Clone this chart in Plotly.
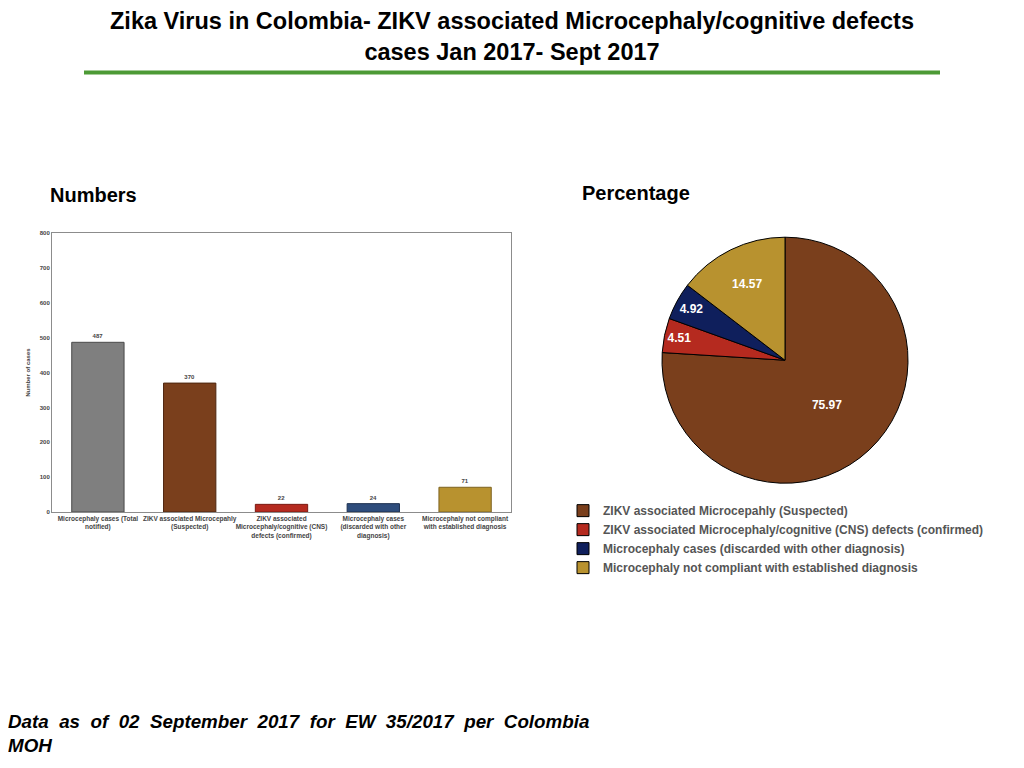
import plotly.graph_objects as go

bar_categories = ['Microcephaly cases (Total<br>notified)',
                  'ZIKV associated Microcepahly<br>(Suspected)',
                  'ZIKV associated<br>Microcephaly/cognitive (CNS)<br>defects (confirmed)',
                  'Microcephaly cases<br>(discarded with other<br>diagnosis)',
                  'Microcephaly not compliant<br>with established diagnosis']
bar_values = [487, 370, 22, 24, 71]
bar_colors = ['#7f7f7f', '#7a3f1c', '#b52a1f', '#2e4d7c', '#b8922f']
bar_edges = ['#4a4a4a', '#4e2610', '#7a1a12', '#1d3050', '#7d6320']

pie_labels = ['ZIKV associated Microcepahly (Suspected)',
              'ZIKV associated Microcephaly/cognitive (CNS) defects (confirmed)',
              'Microcephaly cases (discarded with other diagnosis)',
              'Microcephaly not compliant with established diagnosis']
pie_values = [75.97, 4.51, 4.92, 14.57]
pie_colors = ['#7a3f1c', '#b52a1f', '#0f1f5c', '#b8922f']

title_lines = ['Zika Virus in Colombia- ZIKV associated Microcephaly/cognitive defects',
               'cases Jan 2017- Sept 2017']
footnote = 'Data as of 02 September 2017 for EW 35/2017 per Colombia<br>MOH'

# page body has an 8px margin, so the figure is drawn 8px in from the window corner
OFF = 8
W, H = 1024 - OFF, 768 - OFF

def px_x(x):
    return (x - OFF) / W

def px_y(y):
    return 1 - (y - OFF) / H

fig = go.Figure()

fig.add_trace(go.Bar(x=bar_categories,
                     y=bar_values,
                     marker=dict(color=bar_colors,
                                 line=dict(color=bar_edges, width=1)),
                     width=0.57,
                     text=bar_values,
                     textposition='outside',
                     textfont=dict(size=6, color='#444444', family='Liberation Sans', weight='bold'),
                     cliponaxis=False,
                     showlegend=False))

fig.add_trace(go.Pie(labels=pie_labels,
                     values=pie_values,
                     sort=False,
                     direction='clockwise',
                     rotation=0,
                     marker=dict(colors=pie_colors, line=dict(color='#000000', width=1)),
                     texttemplate='%{value}',
                     textposition='inside',
                     insidetextorientation='horizontal',
                     textfont=dict(size=12, color='white', family='Liberation Sans', weight='bold'),
                     domain=dict(x=[px_x(661), px_x(909)], y=[px_y(484), px_y(236)]),
                     showlegend=True))

fig.update_layout(
    width=W, height=H,
    margin=dict(l=0, r=0, t=0, b=0),
    paper_bgcolor='white',
    plot_bgcolor='white',
    font=dict(family='Liberation Sans', color='#444444'),
    xaxis=dict(domain=[px_x(52), px_x(511)],
               showline=True, linecolor='#8c8c8c', linewidth=1, mirror=True,
               showgrid=False, ticks='',
               tickfont=dict(size=6.5, color='#444444', weight='bold'),
               tickangle=0),
    yaxis=dict(domain=[px_y(513), px_y(232)],
               range=[0, 800], dtick=100,
               showline=True, linecolor='#8c8c8c', linewidth=1, mirror=True,
               showgrid=False, zeroline=False, ticks='',
               tickfont=dict(size=6, color='#444444', weight='bold'),
               title=dict(text='Number of cases', font=dict(size=6, color='#444444', weight='bold'),
                          standoff=8)),
    legend=dict(x=px_x(563), y=px_y(497), xanchor='left', yanchor='top',
                font=dict(size=12, color='#555555', family='Liberation Sans', weight='bold'),
                bgcolor='rgba(0,0,0,0)'),
    showlegend=True,
)

fig.add_annotation(text='<b>' + '<br>'.join(title_lines) + '</b>',
                   x=px_x(512), y=px_y(3), xref='paper', yref='paper',
                   xanchor='center', yanchor='top', showarrow=False,
                   font=dict(size=23.5, color='#000000', family='Liberation Sans'))

fig.add_shape(type='line', xref='paper', yref='paper',
              x0=px_x(84), x1=px_x(940), y0=px_y(70), y1=px_y(70),
              line=dict(color='#4c9a35', width=4))

fig.add_annotation(text='<b>Numbers</b>', x=px_x(48), y=px_y(193),
                   xref='paper', yref='paper', xanchor='left', yanchor='middle',
                   showarrow=False, font=dict(size=20, color='#000000'))
fig.add_annotation(text='<b>Percentage</b>', x=px_x(580), y=px_y(191),
                   xref='paper', yref='paper', xanchor='left', yanchor='middle',
                   showarrow=False, font=dict(size=20, color='#000000'))

fig.add_annotation(text='<b><i>' + footnote.replace(' ', '&nbsp; ') + '</i></b>',
                   x=px_x(6), y=px_y(712),
                   xref='paper', yref='paper', xanchor='left', yanchor='top',
                   align='left', showarrow=False,
                   font=dict(size=18.8, color='#000000'))

fig.write_html('out.html')
